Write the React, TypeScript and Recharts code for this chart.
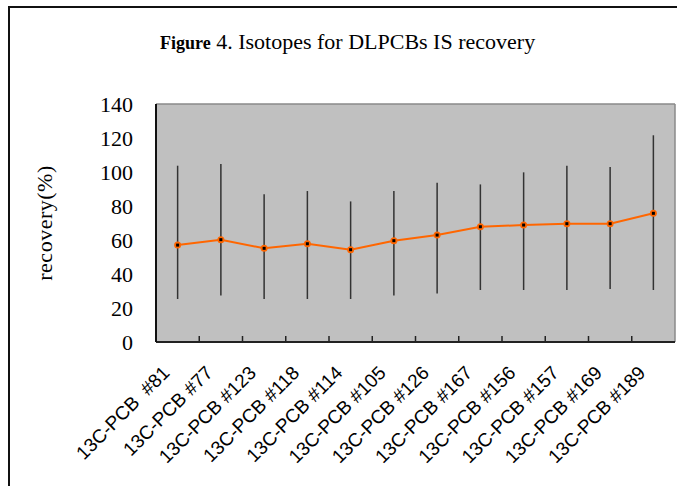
import React from "react";
import { LineChart, Line, XAxis, YAxis, CartesianGrid, ErrorBar } from "recharts";

const compounds = [
  "13C-PCB  #81",
  "13C-PCB #77",
  "13C-PCB #123",
  "13C-PCB #118",
  "13C-PCB #114",
  "13C-PCB #105",
  "13C-PCB #126",
  "13C-PCB #167",
  "13C-PCB #156",
  "13C-PCB #157",
  "13C-PCB #169",
  "13C-PCB #189",
];
const meanRecovery = [57, 60.2, 55.1, 57.8, 54.3, 59.6, 62.9, 67.8, 68.8, 69.6, 69.6, 75.7];
const highRecovery = [103.7, 104.7, 86.9, 88.8, 82.7, 88.8, 93.7, 92.7, 99.8, 103.7, 102.9, 121.6];
const lowRecovery = [25.3, 27.3, 25.3, 25.3, 25.3, 27.3, 28.6, 30.6, 30.6, 30.6, 31.2, 30.6];
const yTicks = [0, 20, 40, 60, 80, 100, 120, 140];

const W = 677;
const H = 486;
const M = { top: 104, right: 2, left: 0, bottom: 0 };
const Y_W = 156;
const X_H = 144;
const plotW = W - M.left - M.right - Y_W;
const band = plotW / compounds.length;

const data = compounds.map((name, i) => ({
  name,
  mean: meanRecovery[i],
  err: [meanRecovery[i] - lowRecovery[i], highRecovery[i] - meanRecovery[i]],
}));

const serif = "'Liberation Serif', 'DejaVu Serif', serif";

function XTick(props: any) {
  const { x, y, payload, index } = props;
  const ax = x - 7;
  const ay = y + 32;
  return (
    <g>
      {index > 0 && (
        <line x1={x - band / 2} x2={x - band / 2} y1={y} y2={y - 6} stroke="#222" strokeWidth={1.5} />
      )}
      <text
        x={ax}
        y={ay}
        textAnchor="end"
        transform={`rotate(-45, ${ax}, ${ay})`}
        fontFamily="'Liberation Sans', Arial, sans-serif"
        fontSize={19}
        fill="#000"
        style={{ whiteSpace: "pre" }}
      >
        {payload.value}
      </text>
    </g>
  );
}

function Dot(props: any) {
  const { cx, cy } = props;
  if (cx == null || cy == null) return null;
  return (
    <g>
      <circle cx={cx} cy={cy} r={3.5} fill="#FF6600" />
      <rect x={cx - 1.5} y={cy - 1.5} width={3} height={3} fill="#000" />
    </g>
  );
}

export default function App() {
  return (
    <div style={{ position: "absolute", left: 0, top: 0, width: W, height: H, overflow: "hidden", background: "#fff" }}>
      <div
        style={{
          position: "absolute",
          left: 8,
          top: 6,
          width: 720,
          height: 520,
          border: "2px solid #111",
        }}
      />
      <div
        style={{
          position: "absolute",
          left: 160,
          top: 29,
          whiteSpace: "nowrap",
          fontFamily: serif,
          fontSize: 22,
          color: "#000",
        }}
      >
        <span style={{ fontWeight: "bold", fontSize: 18 }}>Figure</span> 4. Isotopes for DLPCBs IS recovery
      </div>
      <div style={{ position: "absolute", left: 0, top: 0 }}>
        <LineChart width={W} height={H} data={data} margin={M}>
          <CartesianGrid
            fill="#C0C0C0"
            stroke="#8a8a8a"
            strokeWidth={1.5}
            horizontalCoordinatesGenerator={({ offset }: any) => [offset.top]}
            verticalCoordinatesGenerator={({ offset }: any) => [offset.left + offset.width]}
          />
          <XAxis
            dataKey="name"
            scale="band"
            interval={0}
            height={X_H}
            tickLine={false}
            tickSize={0}
            tickMargin={0}
            axisLine={{ stroke: "#222", strokeWidth: 2 }}
            tick={<XTick />}
          />
          <YAxis
            width={Y_W}
            domain={[0, 140]}
            ticks={yTicks}
            interval={0}
            tickLine={false}
            tickMargin={17}
            axisLine={{ stroke: "#111", strokeWidth: 2 }}
            tick={{ fontFamily: serif, fontSize: 22, fill: "#000" }}
            label={{
              value: "recovery(%)",
              angle: -90,
              position: "insideLeft",
              offset: 44,
              style: { fontFamily: serif, fontSize: 22, letterSpacing: 0.5, fill: "#000", textAnchor: "middle" },
            }}
          />
          <Line
            dataKey="mean"
            stroke="#FF6600"
            strokeWidth={2}
            dot={<Dot />}
            activeDot={false}
            isAnimationActive={false}
          >
            <ErrorBar dataKey="err" direction="y" width={0} stroke="#333" strokeWidth={1.5} />
          </Line>
        </LineChart>
      </div>
    </div>
  );
}
